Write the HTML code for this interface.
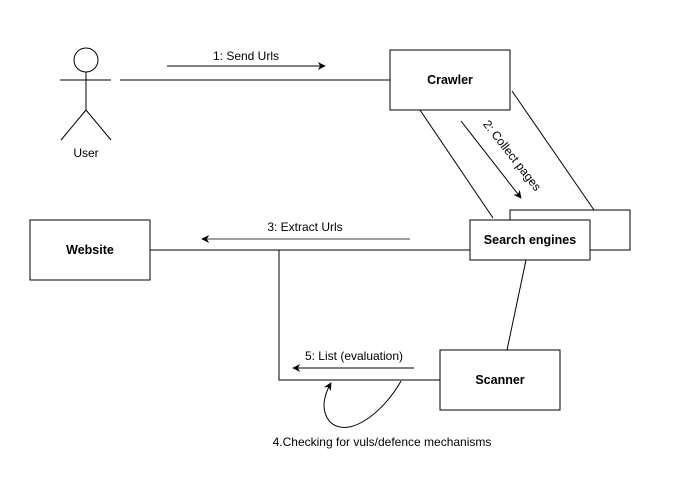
<!DOCTYPE html>
<html><head><style>
body{margin:0;background:#fff;}
svg{display:block;font-family:"Liberation Sans",Arial,sans-serif;}
</style></head><body>
<svg width="681" height="482" viewBox="0 0 681 482" xmlns="http://www.w3.org/2000/svg">
<defs>
<marker id="a" viewBox="0 0 10 10" refX="9" refY="5" markerWidth="8" markerHeight="8" orient="auto" markerUnits="userSpaceOnUse"><path d="M0,0 L10,5 L0,10 L3,5 z" fill="#000"/></marker>
</defs>
<g fill="none" stroke="#000" stroke-width="1">
<circle cx="86" cy="60" r="12"/>
<line x1="86" y1="72" x2="86" y2="110"/>
<line x1="60" y1="80" x2="111" y2="80"/>
<line x1="86" y1="110" x2="61" y2="140"/>
<line x1="86" y1="110" x2="111" y2="140"/>
<line x1="120" y1="80" x2="390" y2="80"/>
<line x1="167" y1="66" x2="325" y2="66" marker-end="url(#a)"/>
<rect x="390" y="50" width="120" height="60"/>
<line x1="420" y1="110" x2="493" y2="218"/>
<line x1="512" y1="91" x2="594" y2="210"/>
<line x1="461" y1="121" x2="521" y2="198" marker-end="url(#a)"/>
<rect x="510" y="210" width="120" height="40"/>
<rect x="470" y="220" width="120" height="40" fill="#fff"/>
<rect x="30" y="220" width="120" height="60"/>
<line x1="150" y1="250" x2="470" y2="250"/>
<line x1="410" y1="239" x2="202" y2="239" stroke="#808080" stroke-width="1.5" marker-end="url(#a)"/>
<polyline points="279,250 279,380 440,380"/>
<line x1="526" y1="260" x2="507" y2="350"/>
<rect x="440" y="350" width="120" height="60"/>
<line x1="414" y1="368" x2="293" y2="368" marker-end="url(#a)"/>
<path d="M401,381 C385,410 350,440 330,422 C320,410 324,395 331,383" marker-end="url(#a)"/>
</g>
<g font-size="12" fill="#000">
<text x="246" y="60" text-anchor="middle">1: Send Urls</text>
<text x="86" y="157" text-anchor="middle">User</text>
<text x="305" y="231" text-anchor="middle">3: Extract Urls</text>
<text x="354" y="360" text-anchor="middle">5: List (evaluation)</text>
<text x="382" y="446" text-anchor="middle">4.Checking for vuls/defence mechanisms</text>
<text transform="translate(509,158) rotate(52)" text-anchor="middle">2: Collect pages</text>
</g>
<g font-size="12.5" font-weight="bold" text-anchor="middle" fill="#000">
<text x="450" y="84">Crawler</text>
<text x="530" y="244">Search engines</text>
<text x="90" y="254">Website</text>
<text x="500" y="384">Scanner</text>
</g>
</svg>
</body></html>
